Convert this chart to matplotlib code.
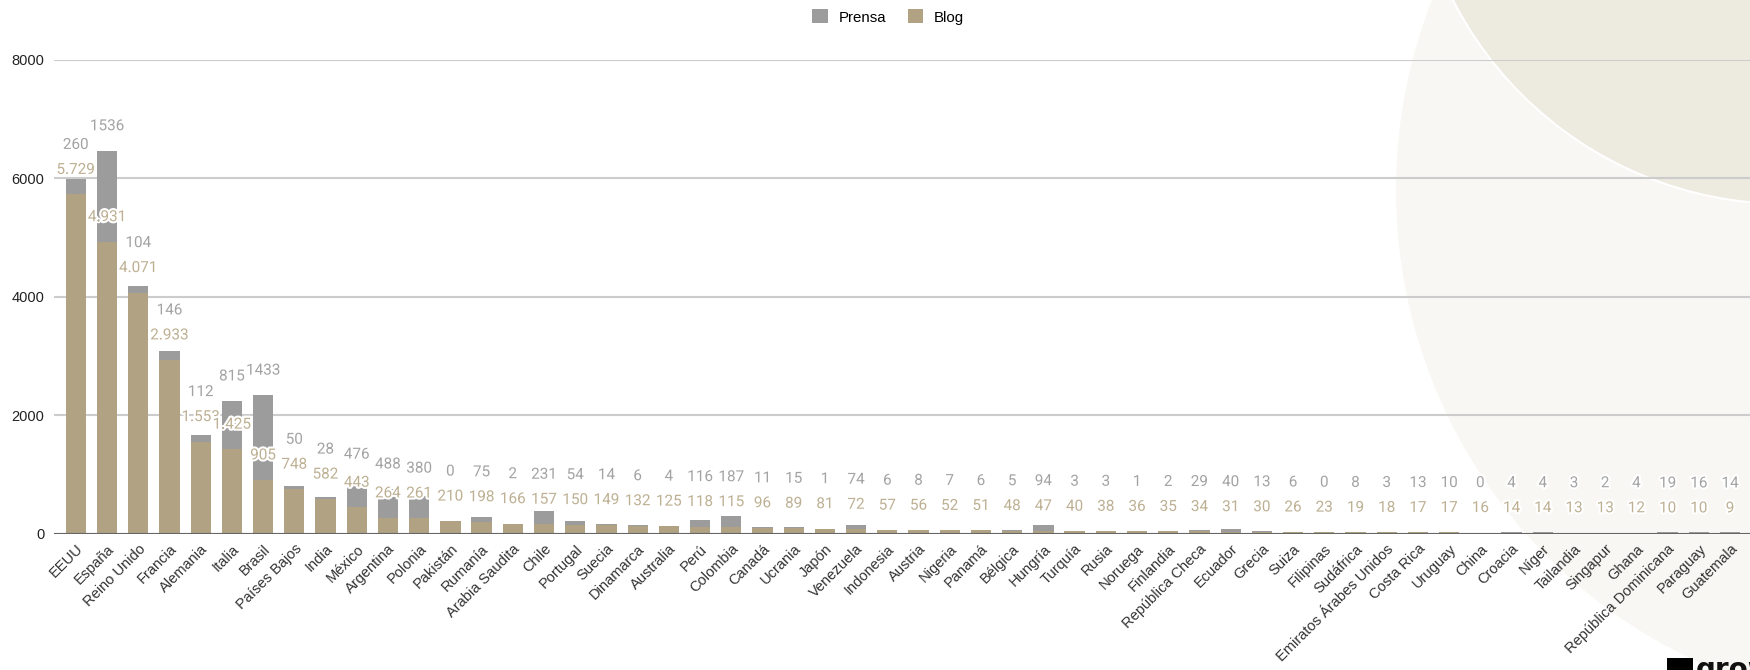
import matplotlib
matplotlib.use("Agg")
import matplotlib.pyplot as plt
import matplotlib.patheffects as pe
from matplotlib.patches import Ellipse, Rectangle
import numpy as np

# datos
paises = ["EEUU", "España", "Reino Unido", "Francia", "Alemania", "Italia", "Brasil",
          "Países Bajos", "India", "México", "Argentina", "Polonia", "Pakistán", "Rumanía",
          "Arabia Saudita", "Chile", "Portugal", "Suecia", "Dinamarca", "Australia", "Perú",
          "Colombia", "Canadá", "Ucrania", "Japón", "Venezuela", "Indonesia", "Austria",
          "Nigeria", "Panamá", "Bélgica", "Hungría", "Turquía", "Rusia", "Noruega",
          "Finlandia", "República Checa", "Ecuador", "Grecia", "Suiza", "Filipinas",
          "Sudáfrica", "Emiratos Árabes Unidos", "Costa Rica", "Uruguay", "China", "Croacia",
          "Níger", "Tailandia", "Singapur", "Ghana", "República Dominicana", "Paraguay",
          "Guatemala"]
blog = [5729, 4931, 4071, 2933, 1553, 1425, 905, 748, 582, 443, 264, 261, 210, 198,
        166, 157, 150, 149, 132, 125, 118, 115, 96, 89, 81, 72, 57, 56, 52, 51, 48, 47,
        40, 38, 36, 35, 34, 31, 30, 26, 23, 19, 18, 17, 17, 16, 14, 14, 13, 13, 12, 10,
        10, 9]
prensa = [260, 1536, 104, 146, 112, 815, 1433, 50, 28, 476, 488, 380, 0, 75,
          2, 231, 54, 14, 6, 4, 116, 187, 11, 15, 1, 74, 6, 8, 7, 6, 5, 94,
          3, 3, 1, 2, 29, 40, 13, 6, 0, 8, 3, 13, 10, 0, 4, 4, 3, 2, 4, 19,
          16, 14]
y_ticks = [0, 2000, 4000, 6000, 8000]

C_PRENSA = "#9c9c9c"
C_BLOG = "#b0a283"
W, H = 1750, 670

fig = plt.figure(figsize=(W / 100, H / 100), dpi=100)

# círculos decorativos de fondo (coordenadas en px de la figura)
def circulo(cx, cy, r, **kw):
    e = Ellipse((cx / W, 1 - cy / H), 2 * r / W, 2 * r / H,
                transform=fig.transFigure, **kw)
    fig.patches.append(e)

circulo(1916, 190, 520, facecolor="#f8f7f3", edgecolor="none", zorder=-10)
circulo(1786, -170, 374, facecolor="#edeae0", edgecolor="white", lw=1.5, zorder=-9)

ax = fig.add_axes([54 / W, 1 - 533.5 / H, 1 - 54 / W, (533.5 - 60) / H])
ax.set_facecolor("none")
ax.set_zorder(1)

x = np.arange(len(paises))
blog_a = np.array(blog)
prensa_a = np.array(prensa)
ax.bar(x, blog_a, width=0.65, color=C_BLOG, zorder=3)
ax.bar(x, prensa_a, width=0.65, bottom=blog_a, color=C_PRENSA, zorder=3)

ax.set_ylim(0, 8000)
ax.set_xlim(-0.7, len(paises) - 0.36)
ax.set_yticks(y_ticks)
ax.set_yticklabels([str(t) for t in y_ticks], fontsize=10.5, color="#222222",
                   family="Liberation Sans")
ax.set_xticks(x)
ax.set_xticklabels(paises, rotation=45, ha="right", rotation_mode="anchor",
                   fontsize=10.5, color="#333333", family="Liberation Sans")
ax.tick_params(axis="both", length=0)
ax.tick_params(axis="y", pad=7)
ax.tick_params(axis="x", pad=6)
for s in ax.spines.values():
    s.set_visible(False)
ax.yaxis.grid(True, color="#cccccc", lw=1.5, zorder=1)
ax.set_axisbelow(True)
ax.axhline(0, color="#666666", lw=1.5, zorder=4)

# etiquetas de datos: blog encima de su segmento, prensa encima del total
off, sep = 414, 422
halo = [pe.withStroke(linewidth=3, foreground="white")]
for i in range(len(paises)):
    yb = blog_a[i] + off
    yp = max(blog_a[i] + prensa_a[i] + off, yb + sep)
    ax.text(i, yb, f"{blog_a[i]:,}".replace(",", "."), ha="center", va="center",
            fontsize=11, color="#bdb093", family="Roboto", path_effects=halo, zorder=5)
    ax.text(i, yp, str(prensa_a[i]), ha="center", va="center",
            fontsize=11, color="#a3a3a3", family="Roboto", path_effects=halo, zorder=5)

# leyenda
h1 = Rectangle((0, 0), 1, 1, facecolor=C_PRENSA)
h2 = Rectangle((0, 0), 1, 1, facecolor=C_BLOG)
fig.legend([h1, h2], ["Prensa", "Blog"], loc="center", bbox_to_anchor=(888 / W, 1 - 17 / H),
           ncol=2, frameon=False, handlelength=1.05, handleheight=1.05,
           handletextpad=0.7, columnspacing=1.45,
           prop={"family": "Liberation Sans", "size": 10.8})

# logo cortado abajo a la derecha
fig.patches.append(Rectangle((1667 / W, 0), 26 / W, 12 / H, transform=fig.transFigure,
                             facecolor="black", zorder=6))
fig.text(1696 / W, 1 - 656 / H, "grow", fontsize=20, fontweight="bold", color="#111111",
         family="DejaVu Sans", va="top", ha="left", zorder=6)

fig.savefig("out.png", dpi=100, facecolor="white")
